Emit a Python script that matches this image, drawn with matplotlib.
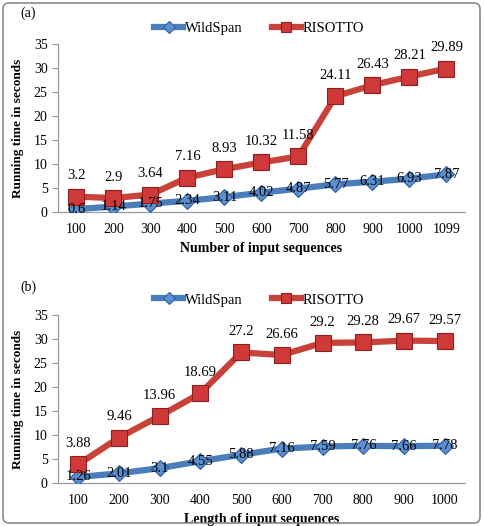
import matplotlib
matplotlib.use("Agg")
import matplotlib.pyplot as plt
from matplotlib.patches import FancyBboxPatch

plt.rcParams['font.family'] = ['Liberation Serif', 'DejaVu Serif']

cats_a = ["100", "200", "300", "400", "500", "600", "700", "800", "900", "1000", "1099"]
wild_a = [0.6, 1.14, 1.75, 2.34, 3.11, 4.02, 4.87, 5.77, 6.31, 6.93, 7.87]
ris_a = [3.2, 2.9, 3.64, 7.16, 8.93, 10.32, 11.58, 24.11, 26.43, 28.21, 29.89]

cats_b = ["100", "200", "300", "400", "500", "600", "700", "800", "900", "1000"]
wild_b = [1.26, 2.01, 3.1, 4.55, 5.88, 7.16, 7.59, 7.76, 7.66, 7.78]
ris_b = [3.88, 9.46, 13.96, 18.69, 27.2, 26.66, 29.2, 29.28, 29.67, 29.57]

W, H = 485, 526
fig = plt.figure(figsize=(W / 100, H / 100), dpi=100)

# rounded border
border = FancyBboxPatch((3 / W, 3 / H), 477 / W, 520 / H,
                        boxstyle="round,pad=0,rounding_size=0.012",
                        transform=fig.transFigure, fill=False,
                        edgecolor="#8c8c8c", linewidth=1.2)
fig.patches.append(border)

BLUE = "#4A7EBB"
AXC = "#9a9a9a"


def panel(rect, cats, wild, ris, xlabel, tag, tag_y, leg_y):
    ax = fig.add_axes(rect)
    x = list(range(len(cats)))
    ax.plot(x, wild, color=BLUE, lw=4.5, marker="D", markersize=8.5,
            markerfacecolor="#5B8FD0", markeredgecolor="#2F5F9A",
            markeredgewidth=0.8, label="WildSpan", zorder=3)
    ax.plot(x, ris, color="#C9423A", lw=4.5, marker="s", markersize=11,
            markerfacecolor="#D0393A", markeredgecolor="#8E1F1F",
            markeredgewidth=0.8, label="RISOTTO", zorder=4)
    for xi, v in zip(x, ris):
        ax.annotate(f"{v:g}", (xi, v), xytext=(0, 15), textcoords="offset points",
                    ha="center", va="center", fontsize=10.5, color="black", zorder=6)
    for xi, v in zip(x, wild):
        ax.annotate(f"{v:g}", (xi, v), xytext=(0, 0), textcoords="offset points",
                    ha="center", va="center", fontsize=10.5, color="black", zorder=6)
    ax.set_xlim(-0.5, len(cats) - 0.5)
    ax.set_ylim(0, 35)
    ax.set_yticks(range(0, 36, 5))
    ax.set_xticks(x)
    ax.set_xticklabels(cats)
    ax.tick_params(axis="both", labelsize=10, colors="black")
    ax.tick_params(axis="y", color=AXC, length=4, width=0.8)
    ax.tick_params(axis="x", length=0, pad=8)
    for s in ["top", "right"]:
        ax.spines[s].set_visible(False)
    for s in ["left", "bottom"]:
        ax.spines[s].set_color(AXC)
        ax.spines[s].set_linewidth(0.9)
    ax.set_ylabel("Running time in seconds", fontsize=9.5, fontweight="bold", labelpad=7)
    ax.set_xlabel(xlabel, fontsize=10, fontweight="bold", labelpad=4)
    fig.text(20 / W, 1 - tag_y / H, tag, fontsize=10, ha="left", va="center")
    ax.legend(loc="center", bbox_to_anchor=(259 / W, 1 - leg_y / H),
              bbox_transform=fig.transFigure, ncol=2, frameon=False,
              fontsize=10.5, handlelength=2.0, columnspacing=2.0,
              handletextpad=0.1, markerscale=0.7)
    return ax


panel([58 / W, 1 - 212 / H, 407 / W, 168 / H], cats_a, wild_a, ris_a,
      "Number of input sequences", "(a)", 13, 28)
panel([58 / W, 1 - 483 / H, 407 / W, 168 / H], cats_b, wild_b, ris_b,
      "Length of input sequences", "(b)", 287, 300)

fig.savefig("out.png", dpi=100)
